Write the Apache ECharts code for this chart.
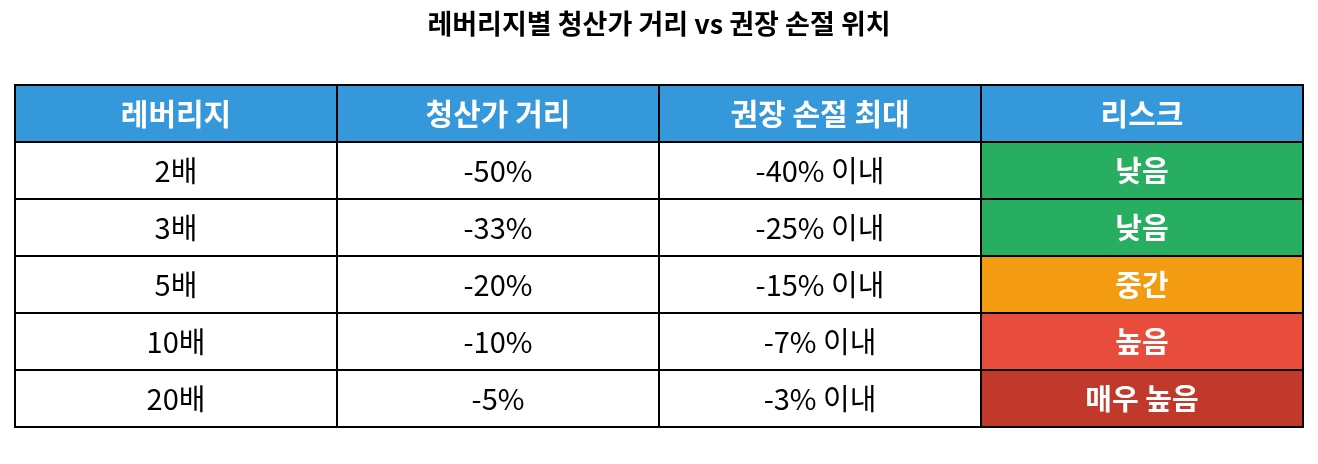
<!DOCTYPE html>
<html>
<head>
<meta charset="utf-8">
<script src="https://cdn.jsdelivr.net/npm/echarts@6/dist/echarts.min.js"></script>
<style>html,body{margin:0;padding:0;background:#fff}#c{width:1318px;height:464px}</style>
</head>
<body>
<div id="c"></div>
<script>
const title = '레버리지별 청산가 거리 vs 권장 손절 위치';
const headers = ['레버리지', '청산가 거리', '권장 손절 최대', '리스크'];
const leverage = ['2배', '3배', '5배', '10배', '20배'];
const liqDistance = ['-50%', '-33%', '-20%', '-10%', '-5%'];
const stopLossMax = ['-40% 이내', '-25% 이내', '-15% 이내', '-7% 이내', '-3% 이내'];
const riskLevel = ['낮음', '낮음', '중간', '높음', '매우 높음'];

const riskColor = {'낮음': '#27ae60', '중간': '#f39c12', '높음': '#e74c3c', '매우 높음': '#c0392b'};
const headerColor = '#3498db';
const font = '"Noto Sans CJK KR", "Noto Sans", sans-serif';

const cells = [];
headers.forEach((h, c) => cells.push([c, 0, h, 'header']));
leverage.forEach((v, r) => {
  cells.push([0, r + 1, v, 'body']);
  cells.push([1, r + 1, liqDistance[r], 'body']);
  cells.push([2, r + 1, stopLossMax[r], 'body']);
  cells.push([3, r + 1, riskLevel[r], 'risk']);
});

const chart = echarts.init(document.getElementById('c'));
chart.setOption({
  backgroundColor: '#fff',
  animation: false,
  title: {
    text: title, left: 'center', top: 5,
    textStyle: {fontFamily: font, fontSize: 27, fontWeight: 'bold', color: '#000'}
  },
  grid: {left: 15, right: 15, top: 85, bottom: 37},
  xAxis: {type: 'category', data: [0,1,2,3], show: false},
  yAxis: {type: 'category', data: [0,1,2,3,4,5], inverse: true, show: false},
  series: [{
    type: 'custom',
    data: cells,
    renderItem: function (params, api) {
      const c = api.value(0), r = api.value(1);
      const kind = cells[params.dataIndex][3];
      const text = cells[params.dataIndex][2];
      const p = api.coord([c, r]);
      const s = api.size([1, 1]);
      let fill = '#fff', color = '#000', weight = 'normal', size = 29;
      if (kind === 'header') { fill = headerColor; color = '#fff'; weight = 'bold'; size = 30; }
      if (kind === 'risk') { fill = riskColor[text]; color = '#fff'; weight = 'bold'; size = 29; }
      return {
        type: 'group',
        children: [{
          type: 'rect',
          shape: {x: p[0] - s[0] / 2, y: p[1] - s[1] / 2, width: s[0], height: s[1]},
          style: {fill: fill, stroke: '#000', lineWidth: 2}
        }, {
          type: 'text',
          x: p[0], y: p[1],
          style: {text: text, fill: color, fontSize: size, fontWeight: weight, fontFamily: font,
                  align: 'center', verticalAlign: 'middle'}
        }]
      };
    }
  }]
});
</script>
</body>
</html>
